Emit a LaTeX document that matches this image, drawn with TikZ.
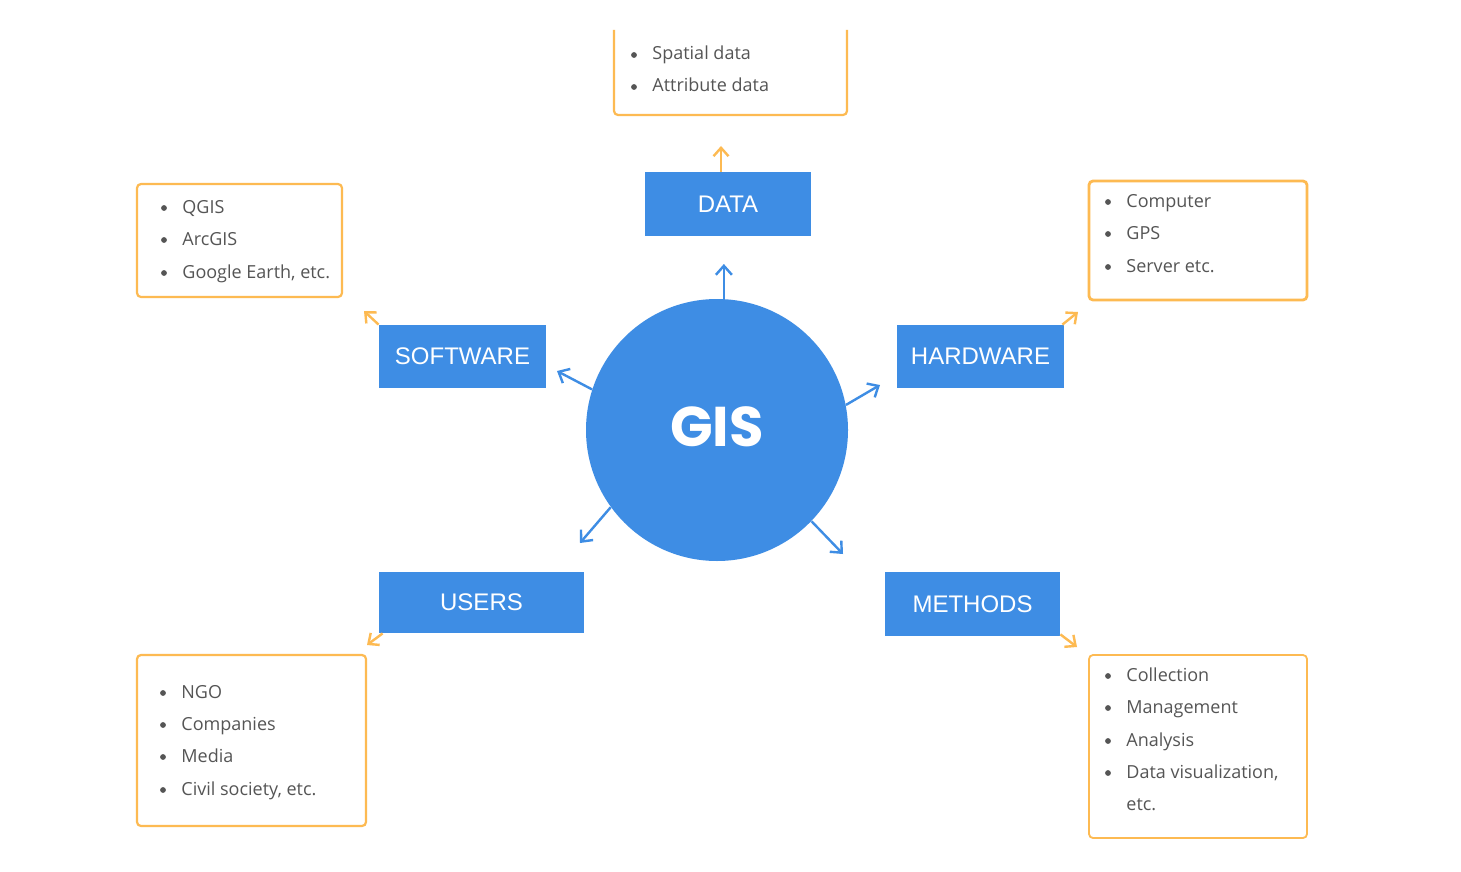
\documentclass[tikz,border=0pt]{standalone}
\usepackage{fontspec}
\setmainfont{Open Sans}
\newfontfamily\labelfont{Liberation Sans}
\newfontfamily\gisfont{Poppins}
\usetikzlibrary{arrows.meta}
\definecolor{gisblue}{HTML}{3E8DE4}
\definecolor{gisorange}{HTML}{FDBA52}
\definecolor{txtgray}{HTML}{555555}
\newcommand{\gitem}[4]{%
  \fill[txtgray] (#2-18,#3-5) circle (1.45pt);
  \node[item] (#1) at (#2,#3) {#4};}
\begin{document}
\begin{tikzpicture}[x=0.5pt,y=-0.5pt,
  labelbox/.style={rectangle, fill=gisblue, text=white, font=\labelfont\fontsize{12}{14}\selectfont, inner sep=0},
  listbox/.style={rectangle, draw=gisorange, line width=1.1pt, rounded corners=2pt, inner sep=0},
  item/.style={anchor=base west, inner sep=0, text=txtgray, font=\fontsize{9}{11}\selectfont},
  bluearrow/.style={draw=gisblue, line width=1.2pt, -{Straight Barb[length=4.5pt,width=8pt]}},
  orangearrow/.style={draw=gisorange, line width=1.2pt, -{Straight Barb[length=4.2pt,width=7.5pt]}},
]
\useasboundingbox[fill=white] (0,0) rectangle (1461,872);

% central circle
\node[circle, fill=gisblue, minimum size=131pt, inner sep=0, text=white,
      font=\gisfont\bfseries\fontsize{28}{30}\selectfont] (gis) at (717,430) {\raisebox{3.5pt}{GIS}};

% label boxes
\node[labelbox, minimum width=83pt, minimum height=32pt] (data) at (728,204) {DATA};
\node[labelbox, minimum width=83.5pt, minimum height=31.5pt] (software) at (462.5,356.5) {SOFTWARE};
\node[labelbox, minimum width=83.5pt, minimum height=31.5pt] (hardware) at (980.5,356.5) {HARDWARE};
\node[labelbox, minimum width=102.5pt, minimum height=30.5pt] (users) at (481.5,602.5) {USERS};
\node[labelbox, minimum width=87.5pt, minimum height=32pt] (methods) at (972.5,604) {METHODS};

% list boxes
\draw[draw=gisorange, line width=1.1pt, rounded corners=2pt] (614,30) -- (614,115) -- (847,115) -- (847,30);
\coordinate (datalist) at (730.5,115);
\node[listbox, minimum width=102.5pt, minimum height=56.5pt] (softlist) at (239.5,240.5) {};
\node[listbox, minimum width=109pt, minimum height=59.5pt, line width=1.4pt] (hardlist) at (1198,240.5) {};
\node[listbox, minimum width=114.5pt, minimum height=85.5pt] (userlist) at (251.5,740.5) {};
\node[listbox, minimum width=109pt, minimum height=91.5pt, line width=0.9pt] (methlist) at (1198,746.5) {};

% list items
\gitem{d1}{652}{60}{Spatial data}
\gitem{d2}{652}{92}{Attribute data}
\gitem{s1}{182}{213}{QGIS}
\gitem{s2}{182}{245}{ArcGIS}
\gitem{s3}{182}{278}{Google Earth, etc.}
\gitem{h1}{1126}{207}{Computer}
\gitem{h2}{1126}{239}{GPS}
\gitem{h3}{1126}{272}{Server etc.}
\gitem{u1}{181}{698}{NGO}
\gitem{u2}{181}{730}{Companies}
\gitem{u3}{181}{762}{Media}
\gitem{u4}{181}{795}{Civil society, etc.}
\gitem{m1}{1126}{681}{Collection}
\gitem{m2}{1126}{713}{Management}
\gitem{m3}{1126}{746}{Analysis}
\gitem{m4}{1126}{778}{Data visualization,}
\node[item] (m5) at (1126,810) {etc.};

% arrow end points
\coordinate (bd) at (723,264);
\coordinate (bs) at (557,371);
\coordinate (bh) at (880,385);
\coordinate (bu) at (580,543);
\coordinate (bm) at (843,554);
\coordinate (od) at (721,146);
\coordinate (os) at (364,311);
\coordinate (oh) at (1078,312);
\coordinate (ou) at (367,645);
\coordinate (om) at (1077,647);

% blue arrows
\draw[bluearrow] (gis.87.4) -- (gis.87.4 |- bd);
\draw[bluearrow] (gis.162) -- (bs);
\draw[bluearrow] (gis.11) -- (bh);
\draw[bluearrow] (gis.-144) -- (bu);
\draw[bluearrow] (gis.-44) -- (bm);

% orange arrows
\draw[orangearrow] ([xshift=-3.5pt]data.north) -- (od);
\draw[orangearrow] (software.north west) -- (os);
\draw[orangearrow] ([xshift=-1pt]hardware.north east) -- (oh);
\draw[orangearrow] ([xshift=2pt]users.south west) -- (ou);
\draw[orangearrow] ([yshift=1pt]methods.south east) -- (om);
\end{tikzpicture}
\end{document}
